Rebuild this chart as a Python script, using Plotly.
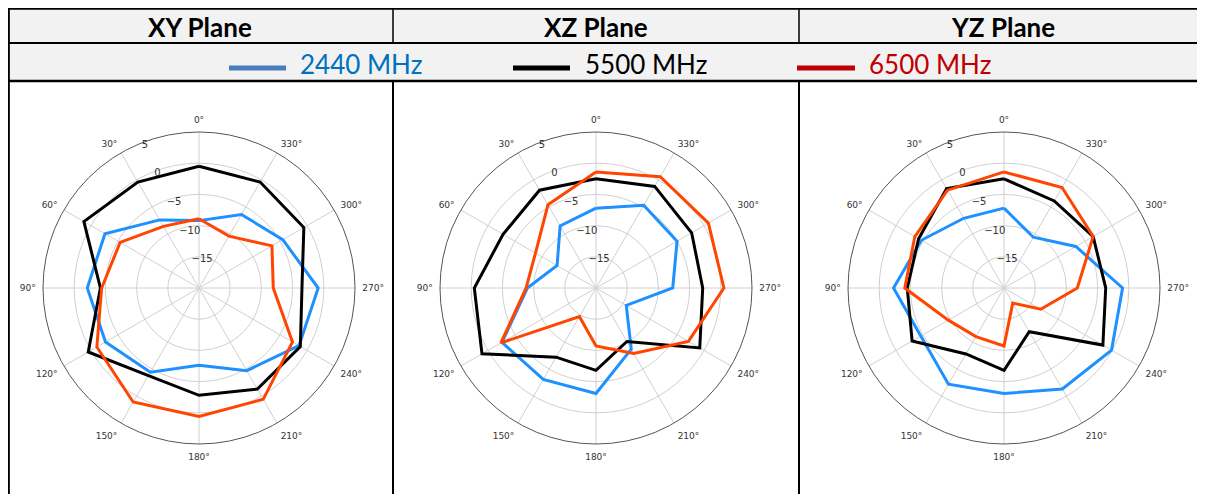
import plotly.graph_objects as go

# ---------------- data ----------------
angles = [0, 30, 60, 90, 120, 150, 180, 210, 240, 270, 300, 330]
angle_labels = [f"{a}°" for a in angles]
radial_ticks = [-15, -10, -5, 0, 5]

planes = ["XY Plane", "XZ Plane", "YZ Plane"]
freqs = ["2440 MHz", "5500 MHz", "6500 MHz"]

xy_2440 = [-9.2, -7.4, -2.6, -2.1, -2.7, -4.4, -7.6, -4.7, -1.5, -0.9, -4.5, -6.4]
xy_5500 = [-0.5, -0.4, 1.3, -4.2, 0.5, -3.8, -2.8, -1.3, -1.25, -3.5, -0.6, -0.4]
xy_6500 = [-8.9, -8.6, -5.4, -4.4, -1.1, 1.1, 0.6, 0.6, -2.7, -8.1, -6.5, -10.4]

xz_2440 = [-7.2, -8.5, -12.8, -9.0, -2.6, -3.1, -3.1, -8.7, -14.4, -7.7, -5.0, -4.7]
xz_5500 = [-2.5, -1.9, -2.8, -0.5, 1.1, -7.2, -6.8, -10.1, -0.8, -2.9, -2.3, -1.2]
xz_6500 = [-1.4, -4.6, -8.8, -8.8, -2.4, -14.7, -10.7, -7.9, -2.9, 0.5, 0.8, 0.6]

yz_2440 = [-7.2, -7.1, -4.7, -2.3, -4.6, -2.2, -3.1, -1.3, -0.1, -1.0, -6.7, -10.6]
yz_5500 = [-2.5, -1.6, -4.2, -4.5, -3.0, -7.8, -6.8, -11.9, -1.7, -3.7, -3.5, -3.9]
yz_6500 = [-1.4, -1.9, -3.5, -4.1, -9.7, -11.0, -10.7, -17.2, -13.2, -8.25, -3.5, -1.4]

# ---------------- styles ----------------
PAGE_OFF = 8                      # default body margin of the html page
W, H = 1205 - PAGE_OFF, 494 - PAGE_OFF
line_colors = ["#1E90FF", "#000000", "#FF4500"]
legend_line_colors = ["#4A7EBB", "#000000", "#C00000"]
legend_text_colors = ["#0070C0", "#000000", "#C00000"]
TXT_FONT = "Lato"
POL_FONT = "DejaVu Sans"


def px(x):
    return (x - PAGE_OFF) / W


def py(y):
    return 1 - (y - PAGE_OFF) / H


fig = go.Figure()

plane_data = [
    [xy_2440, xy_5500, xy_6500],
    [xz_2440, xz_5500, xz_6500],
    [yz_2440, yz_5500, yz_6500],
]
centers = [199, 596, 1004]
R = 156
cy = 288

for i, series in enumerate(plane_data):
    pname = "polar" if i == 0 else f"polar{i + 1}"
    for j, vals in enumerate(series):
        fig.add_trace(go.Scatterpolar(
            theta=angles + angles[:1],
            r=vals + vals[:1],
            mode="lines",
            line=dict(color=line_colors[j], width=3),
            name=freqs[j],
            showlegend=False,
            subplot=pname,
        ))
    cx = centers[i]
    fig.update_layout({pname: dict(
        domain=dict(x=[px(cx - R), px(cx + R)], y=[py(cy + R), py(cy - R)]),
        bgcolor="white",
        angularaxis=dict(
            rotation=90, direction="counterclockwise",
            tickmode="array", tickvals=angles, ticktext=angle_labels,
            showline=True, linecolor="#555555", linewidth=1,
            gridcolor="#d0d0d0", gridwidth=1,
            ticks="outside", ticklen=5, tickcolor="rgba(0,0,0,0)",
            tickfont=dict(family=POL_FONT, size=9, color="#333333"),
        ),
        radialaxis=dict(
            range=[-20, 5], tickmode="array", tickvals=radial_ticks,
            angle=113.5, tickangle=113.5, showline=False, ticks="",
            gridcolor="#d0d0d0", gridwidth=1,
            tickfont=dict(family=POL_FONT, size=10, color="#333333"),
        ),
    )})

shapes = []
# header background (title row + legend row)
shapes.append(dict(type="rect", xref="paper", yref="paper",
                   x0=px(8), x1=1.0, y0=py(81), y1=py(8),
                   fillcolor="#F2F2F2", line=dict(width=0), layer="below"))
# horizontal rules
for yv, w in [(8.6, 2.5), (43, 2), (81, 2.5)]:
    shapes.append(dict(type="line", xref="paper", yref="paper",
                       x0=px(8), x1=1.0, y0=py(yv), y1=py(yv),
                       line=dict(color="black", width=w)))
# left border
shapes.append(dict(type="line", xref="paper", yref="paper",
                   x0=px(8.6), x1=px(8.6), y0=py(8), y1=0,
                   line=dict(color="black", width=2.5)))
# column dividers (title row and chart row)
for xv in [393, 799]:
    shapes.append(dict(type="line", xref="paper", yref="paper",
                       x0=px(xv), x1=px(xv), y0=py(8), y1=py(43),
                       line=dict(color="black", width=1.5)))
    shapes.append(dict(type="line", xref="paper", yref="paper",
                       x0=px(xv), x1=px(xv), y0=py(81), y1=0,
                       line=dict(color="black", width=2)))

annotations = []
title_centers = [200, 596, 1003]
for name, xc in zip(planes, title_centers):
    annotations.append(dict(xref="paper", yref="paper", x=px(xc), y=py(27),
                            text=f"<b>{name}</b>", showarrow=False,
                            xanchor="center", yanchor="middle",
                            font=dict(family=TXT_FONT, size=26, color="black")))

legend_line_x = [(229, 286), (513, 570), (797, 855)]
legend_text_x = [298, 583, 867]
for j in range(3):
    x0, x1 = legend_line_x[j]
    shapes.append(dict(type="line", xref="paper", yref="paper",
                       x0=px(x0), x1=px(x1), y0=py(68), y1=py(68),
                       line=dict(color=legend_line_colors[j], width=5)))
    annotations.append(dict(xref="paper", yref="paper", x=px(legend_text_x[j]), y=py(64),
                            text=freqs[j], showarrow=False,
                            xanchor="left", yanchor="middle",
                            font=dict(family=TXT_FONT, size=26, color=legend_text_colors[j])))

fig.update_layout(
    width=W, height=H,
    margin=dict(l=0, r=0, t=0, b=0),
    paper_bgcolor="white",
    shapes=shapes,
    annotations=annotations,
    showlegend=False,
)

fig.write_html("out.html")
